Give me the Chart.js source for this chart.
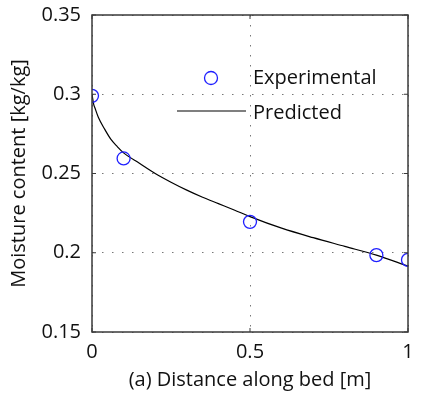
<!DOCTYPE html>
<html>
<head>
<meta charset="utf-8">
<script src="https://cdn.jsdelivr.net/npm/chart.js@4"></script>
<style>
  html, body { margin: 0; padding: 0; background: #fff; }
  #wrap { width: 421px; height: 399px; }
</style>
</head>
<body>
<div id="wrap"><canvas id="chart" width="421" height="399"></canvas></div>
<script>
// Datos experimentales
const expX = [0, 0.1, 0.5, 0.9, 1.0];
const expY = [0.299, 0.2595, 0.2195, 0.1985, 0.1955];

// Curva predicha
const predX = [0, 0.005, 0.01, 0.02, 0.04, 0.06, 0.08, 0.1, 0.15, 0.2, 0.25, 0.3, 0.35, 0.4, 0.45, 0.5, 0.6, 0.7, 0.8, 0.9, 1.0];
const predY = [0.300, 0.294, 0.291, 0.2855, 0.278, 0.2715, 0.267, 0.263, 0.2565, 0.250, 0.2445, 0.2395, 0.235, 0.231, 0.227, 0.2228, 0.2155, 0.2095, 0.204, 0.1985, 0.1915];

// Etiquetas de los ejes
const xTickValues = [0, 0.5, 1];
const xTickLabels = ['0', '0.5', '1'];
const yTickValues = [0.15, 0.2, 0.25, 0.3, 0.35];
const yTickLabels = ['0.15', '0.2', '0.25', '0.3', '0.35'];

const xTitle = '(a) Distance along bed [m]';
const yTitle = 'Moisture content [kg/kg]';
const legendLabels = ['Experimental', 'Predicted'];

const FONT = "'Open Sans', 'Noto Sans', sans-serif";
const FSIZE = 20;
const BLUE = '#1f1fff';

function tickLabel(values, labels, v) {
    const i = values.findIndex(t => Math.abs(t - v) < 1e-9);
    return i >= 0 ? labels[i] : '';
}

// Marco, marcas interiores y leyenda
const framePlugin = {
    id: 'frame',
    afterDatasetsDraw(chart) {
        const ctx = chart.ctx;
        const a = chart.chartArea;
        const xs = chart.scales.x;
        const ys = chart.scales.y;
        ctx.save();
        ctx.strokeStyle = '#3a3a3a';
        ctx.lineWidth = 1.5;
        ctx.strokeRect(a.left, a.top, a.right - a.left, a.bottom - a.top);

        // marcas hacia adentro en los cuatro lados
        ctx.lineWidth = 1;
        const len = 4;
        ctx.beginPath();
        xTickValues.forEach(v => {
            const px = xs.getPixelForValue(v);
            ctx.moveTo(px, a.bottom); ctx.lineTo(px, a.bottom - len);
            ctx.moveTo(px, a.top); ctx.lineTo(px, a.top + len);
        });
        yTickValues.forEach(v => {
            const py = ys.getPixelForValue(v);
            ctx.moveTo(a.left, py); ctx.lineTo(a.left + len, py);
            ctx.moveTo(a.right, py); ctx.lineTo(a.right - len, py);
        });
        ctx.stroke();

        // leyenda
        ctx.font = FSIZE + 'px ' + FONT;
        ctx.fillStyle = '#111';
        ctx.textBaseline = 'middle';
        ctx.textAlign = 'left';
        const lx = a.left + 161;
        ctx.fillText(legendLabels[0], lx, a.top + 63);
        ctx.fillText(legendLabels[1], lx, a.top + 98);

        ctx.strokeStyle = BLUE;
        ctx.lineWidth = 1.3;
        ctx.beginPath();
        ctx.arc(a.left + 119, a.top + 63, 6.5, 0, Math.PI * 2);
        ctx.stroke();

        ctx.strokeStyle = '#000';
        ctx.lineWidth = 1.2;
        ctx.beginPath();
        ctx.moveTo(a.left + 85, a.top + 96);
        ctx.lineTo(a.left + 154, a.top + 96);
        ctx.stroke();
        ctx.restore();
    }
};

const gridStyle = {
    color: '#777',
    lineWidth: 1,
    drawTicks: false
};

new Chart(document.getElementById('chart'), {
    type: 'scatter',
    data: {
        datasets: [
            {
                label: legendLabels[1],
                type: 'line',
                data: predX.map((x, i) => ({ x: x, y: predY[i] })),
                borderColor: '#000',
                borderWidth: 1.2,
                pointRadius: 0,
                fill: false,
                cubicInterpolationMode: 'monotone',
                order: 2
            },
            {
                label: legendLabels[0],
                data: expX.map((x, i) => ({ x: x, y: expY[i] })),
                pointStyle: 'circle',
                pointRadius: 6.5,
                pointBorderWidth: 1.3,
                borderColor: BLUE,
                backgroundColor: 'rgba(0,0,0,0)',
                order: 1
            }
        ]
    },
    options: {
        responsive: false,
        animation: false,
        devicePixelRatio: 1,
        layout: { padding: { top: 15, right: 13, bottom: 0, left: 0 } },
        plugins: {
            legend: { display: false },
            tooltip: { enabled: false }
        },
        scales: {
            x: {
                type: 'linear',
                min: 0,
                max: 1,
                afterFit(scale) {
                    scale.height = 67;
                    scale.paddingLeft = 0;
                    scale.paddingRight = 0;
                },
                afterBuildTicks(scale) { scale.ticks = xTickValues.map(v => ({ value: v })); },
                grid: gridStyle,
                border: { display: false, dash: [1.5, 8.5] },
                ticks: {
                    padding: 8,
                    color: '#111',
                    font: { family: FONT, size: FSIZE },
                    callback: v => tickLabel(xTickValues, xTickLabels, v)
                },
                title: {
                    display: true,
                    text: xTitle,
                    color: '#111',
                    font: { family: FONT, size: FSIZE },
                    padding: { top: 0, bottom: 7 }
                }
            },
            y: {
                type: 'linear',
                min: 0.15,
                max: 0.35,
                afterFit(scale) {
                    scale.width = 92;
                    scale.paddingTop = 0;
                    scale.paddingBottom = 0;
                },
                afterBuildTicks(scale) { scale.ticks = yTickValues.map(v => ({ value: v })); },
                grid: gridStyle,
                border: { display: false, dash: [1.5, 8.5] },
                ticks: {
                    padding: 11,
                    color: '#111',
                    font: { family: FONT, size: FSIZE },
                    callback: v => tickLabel(yTickValues, yTickLabels, v)
                },
                title: {
                    display: true,
                    text: yTitle,
                    color: '#111',
                    font: { family: FONT, size: FSIZE },
                    padding: { top: 7, bottom: 0 }
                }
            }
        }
    },
    plugins: [framePlugin]
});
</script>
</body>
</html>
